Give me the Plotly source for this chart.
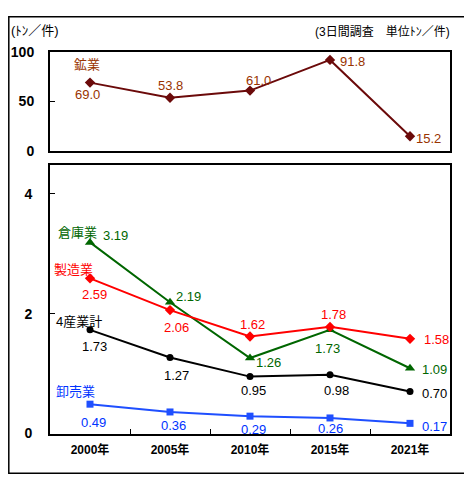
import plotly.graph_objects as go

# page body has an 8px margin: the figure is placed at (8, 8) in the window
OFF = 8
W, H = 472 - OFF, 486 - OFF

years = ["2000年", "2005年", "2010年", "2015年", "2021年"]
mining = [69.0, 53.8, 61.0, 91.8, 15.2]
warehouse = [3.19, 2.19, 1.26, 1.73, 1.09]
manufacturing = [2.59, 2.06, 1.62, 1.78, 1.58]
total4 = [1.73, 1.27, 0.95, 0.98, 0.70]
wholesale = [0.49, 0.36, 0.29, 0.26, 0.17]

top_ticks = [0, 50, 100]
bottom_ticks = [0, 2, 4]

FONT = "Liberation Sans, Arial, Noto Sans CJK JP, sans-serif"


def px_x(p):
    return (p - OFF) / W


def px_y(p):
    return 1 - (p - OFF) / H


fig = go.Figure()

# (values, name, line color, text color, marker symbol, marker size, axes, label offsets, name offset)
series = [
    (mining, "鉱業", "#6B0A0A", "#993300", "diamond", 8, ("x", "y"),
     [(-3, 12), (0, -12), (8, -10), (22, 2), (18, 2)], (-3, -18)),
    (warehouse, "倉庫業", "#006600", "#006600", "triangle-up", 9, ("x2", "y2"),
     [(25, -7), (18, -6), (18, 4), (-3, 19), (24, 1)], (-13, -10)),
    (manufacturing, "製造業", "#FF0000", "#FF0000", "diamond", 8, ("x2", "y2"),
     [(4, 16), (6, 17), (2, -12), (3, -12), (26, 1)], (-17, -9)),
    (total4, "4産業計", "#000000", "#000000", "circle", 7, ("x2", "y2"),
     [(4, 17), (6, 18), (3, 14), (6, 16), (24, 2)], (-11, -8)),
    (wholesale, "卸売業", "#1F4FFF", "#0033FF", "square", 7, ("x2", "y2"),
     [(3, 18), (3, 14), (3, 13), (0, 11), (24, 3)], (-15, -13)),
]

annotations = []
for vals, name, lc, tc, sym, ms, (xa, ya), offs, noff in series:
    fig.add_trace(go.Scatter(
        x=years, y=vals, mode="lines+markers", name=name,
        line=dict(color=lc, width=2),
        marker=dict(symbol=sym, size=ms, color=lc),
        xaxis=xa, yaxis=ya, showlegend=False, cliponaxis=False,
    ))
    fmt = "{:.1f}" if name == "鉱業" else "{:.2f}"
    for xv, yv, (dx, dy) in zip(years, vals, offs):
        annotations.append(dict(
            x=xv, y=yv, xref=xa, yref=ya, text=fmt.format(yv),
            showarrow=False, xshift=dx, yshift=-dy,
            font=dict(family=FONT, size=13, color=tc),
        ))
    annotations.append(dict(
        x=years[0], y=vals[0], xref=xa, yref=ya, text=name,
        showarrow=False, xshift=noff[0], yshift=-noff[1],
        font=dict(family=FONT, size=13, color=tc),
    ))

annotations.append(dict(
    x=px_x(9), y=px_y(23), xref="paper", yref="paper", text="(ﾄﾝ／件)",
    showarrow=False, xanchor="left", yanchor="middle",
    font=dict(family=FONT, size=13, color="#000000"),
))
annotations.append(dict(
    x=px_x(452), y=px_y(25), xref="paper", yref="paper",
    text="(3日間調査　単位ﾄﾝ／件)",
    showarrow=False, xanchor="right", yanchor="middle",
    font=dict(family=FONT, size=12, color="#000000"),
))

xdom = [px_x(50), px_x(450)]
top_dom = [px_y(148), px_y(45)]
bot_dom = [px_y(440), px_y(162)]

axis_common = dict(showline=True, linecolor="#000000", linewidth=2, mirror=True,
                   showgrid=False, zeroline=False)
tick_font = dict(family=FONT, size=14, color="#000000", weight="bold")

fig.update_layout(
    width=W, height=H,
    margin=dict(l=0, r=0, t=0, b=0),
    paper_bgcolor="#FFFFFF", plot_bgcolor="#FFFFFF",
    font=dict(family=FONT, color="#000000"),
    annotations=annotations,
    xaxis=dict(domain=xdom, anchor="y", type="category", range=[-0.5, 4.5],
               showticklabels=False, ticks="", **axis_common),
    yaxis=dict(domain=top_dom, anchor="x", range=[0, 100], tickvals=top_ticks,
               ticks="inside", ticklen=5, tickcolor="#000000", tickwidth=1,
               ticklabelstandoff=11, tickfont=tick_font, **axis_common),
    xaxis2=dict(domain=xdom, anchor="y2", type="category", range=[-0.5, 4.5],
                tickson="boundaries", ticks="inside", ticklen=5, tickcolor="#000000",
                tickwidth=1, ticklabelstandoff=4,
                tickfont=dict(family=FONT, size=12, color="#000000", weight="bold"),
                **axis_common),
    yaxis2=dict(domain=bot_dom, anchor="x2", range=[0, (440 - 162) / 62.0],
                tickvals=bottom_ticks, ticks="inside", ticklen=5, tickcolor="#000000",
                tickwidth=1, ticklabelstandoff=13, tickfont=tick_font, **axis_common),
    shapes=[dict(type="rect", xref="paper", yref="paper",
                 x0=0.8 / W, x1=px_x(466), y0=px_y(481), y1=1 - 0.8 / H,
                 line=dict(color="#000000", width=1.5))],
)

fig.write_html("out.html")
